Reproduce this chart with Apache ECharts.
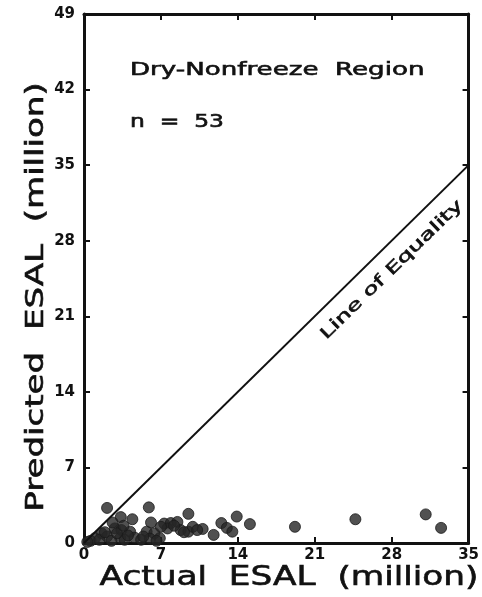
<!DOCTYPE html>
<html>
<head>
<meta charset="utf-8">
<script src="https://cdn.jsdelivr.net/npm/echarts@6/dist/echarts.min.js"></script>
<style>
  html, body { margin: 0; padding: 0; background: #fff; }
  #chart { width: 482px; height: 597px; }
</style>
</head>
<body>
<div id="chart"></div>
<script>
// actual vs predicted ESAL (million)
const actualEsal = [2.1, 5.9, 9.5, 13.9, 15.1, 4.4, 3.35, 6.1, 10.8, 11.8, 12.5, 13.0, 13.5,
  19.2, 24.7, 31.1, 32.5, 7.3, 7.9, 8.5, 7.6, 8.8, 9.5, 9.9, 2.8, 3.4, 4.2, 1.6, 1.0, 2.1,
  3.3, 3.7, 5.7, 6.4, 6.9, 7.0, 2.6, 0.6, 1.4, 2.5, 3.0, 4.6, 5.2, 6.0, 6.6, 8.2, 9.1, 10.3,
  4.0, 1.9, 3.6, 5.4, 0.3]
const predictedEsal = [3.25, 3.3, 2.7, 2.45, 1.75, 2.2, 2.4, 1.9, 1.3, 0.75, 1.85, 1.4, 1.05,
  1.5, 2.2, 2.65, 1.4, 1.8, 1.85, 1.95, 1.35, 1.2, 1.05, 1.5, 1.35, 1.2, 1.05, 0.9, 0.45, 0.6,
  0.45, 0.3, 1.05, 0.9, 0.45, 1.5, 1.9, 0.2, 0.3, 0.2, 0.9, 0.5, 0.3, 0.4, 0.2, 1.6, 1.0, 1.2,
  0.7, 1.0, 1.6, 0.6, 0.1]
const equalityLine = [[0, 0], [35, 35]]
const xMax = 35
const yMax = 49
const step = 7

const points = actualEsal.map((v, i) => [v, predictedEsal[i]])

const font = 'DejaVu Sans'
const chart = echarts.init(document.getElementById('chart'))

const axisCommon = {
  type: 'value',
  min: 0,
  interval: step,
  axisLine: { show: true, onZero: false, lineStyle: { color: '#111', width: 3 } },
  axisTick: { show: true, inside: true, length: 6, lineStyle: { color: '#111', width: 2 } },
  splitLine: { show: false }
}
const labelStyle = { color: '#111', fontFamily: font, fontWeight: 'bold', fontSize: 15 }

// plotter-style text: stretched a bit wider and slightly heavier
function label(text, x, y, size, scaleX, rotation, align) {
  return {
    type: 'text', x: x, y: y, scaleX: scaleX, rotation: rotation || 0,
    style: {
      text: text, fill: '#111', stroke: '#111', lineWidth: 0.6,
      font: size + 'px "DejaVu Sans"',
      align: align, verticalAlign: 'middle', textAlign: align, textVerticalAlign: 'middle'
    }
  }
}

chart.setOption({
  animation: false,
  backgroundColor: '#fff',
  grid: { left: 84, right: 8, top: 14, bottom: 54 },
  xAxis: [
    Object.assign({}, axisCommon, {
      max: xMax,
      position: 'bottom',
      axisLabel: Object.assign({ margin: 5 }, labelStyle)
    }),
    Object.assign({}, axisCommon, {
      max: xMax,
      position: 'top',
      axisLabel: { show: false }
    })
  ],
  yAxis: [
    Object.assign({}, axisCommon, {
      max: yMax,
      position: 'left',
      axisLabel: Object.assign({ margin: 9 }, labelStyle)
    }),
    Object.assign({}, axisCommon, {
      max: yMax,
      position: 'right',
      axisLabel: { show: false }
    })
  ],
  series: [
    {
      type: 'line',
      data: equalityLine,
      symbol: 'none',
      silent: true,
      lineStyle: { color: '#111', width: 2 }
    },
    {
      type: 'scatter',
      data: points,
      symbol: 'circle',
      symbolSize: 11,
      itemStyle: { color: '#262626', borderColor: '#1a1a1a', borderWidth: 1 }
    }
  ],
  graphic: [
    label('Dry-Nonfreeze  Region', 130, 70, 18, 1.45, 0, 'left'),
    label('n  =  53', 130, 122, 18, 1.3, 0, 'left'),
    label('Line of Equality', 392, 270, 16, 1.55, 0.773, 'center'),
    label('Actual  ESAL  (million)', 289, 578, 26, 1.32, 0, 'center'),
    label('Predicted  ESAL  (million)', 37, 297, 24, 1.42, Math.PI / 2, 'center')
  ]
})
</script>
</body>
</html>
